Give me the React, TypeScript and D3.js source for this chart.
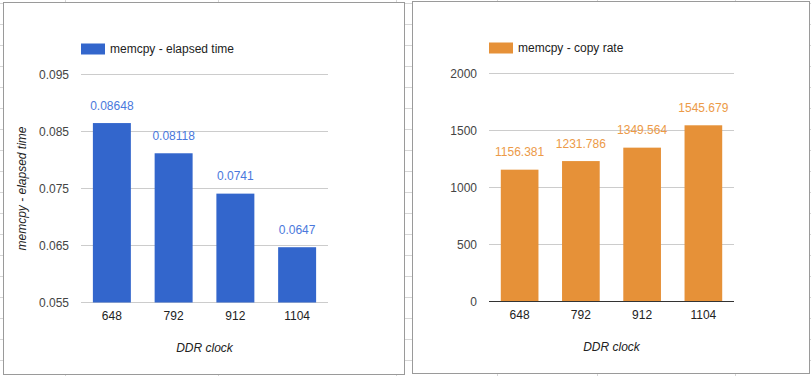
import React from "react";
import * as d3 from "d3";

const categories = ["648", "792", "912", "1104"];
const elapsedTime = [0.08648, 0.08118, 0.0741, 0.0647];
const copyRate = [1156.381, 1231.786, 1349.564, 1545.679];
const elapsedTicks = [0.055, 0.065, 0.075, 0.085, 0.095];
const rateTicks = [0, 500, 1000, 1500, 2000];
const elapsedLabel = "memcpy - elapsed time";
const rateLabel = "memcpy - copy rate";
const xTitle = "DDR clock";

const FONT = "'Liberation Sans', Arial, sans-serif";

type PanelProps = {
  box: { x: number; y: number; w: number; h: number };
  plot: { x0: number; x1: number; y0: number; y1: number };
  values: number[];
  ticks: number[];
  tickFmt: (v: number) => string;
  color: string;
  labelColor: string;
  legend: string;
  legendX: number;
  yTitle?: string;
  baseline: boolean;
};

function Panel(p: PanelProps) {
  const x = d3
    .scaleBand<string>()
    .domain(categories)
    .range([p.plot.x0, p.plot.x1])
    .paddingInner(0.385)
    .paddingOuter(0.1925);
  const y = d3
    .scaleLinear()
    .domain([p.ticks[0], p.ticks[p.ticks.length - 1]])
    .range([p.plot.y0, p.plot.y1]);
  const legendY = p.plot.y1 - 25.5;
  return (
    <g>
      <rect x={p.box.x} y={p.box.y} width={p.box.w} height={p.box.h} fill="#fff" stroke="#9a9a9a" strokeWidth={1} />
      <rect x={p.legendX} y={legendY - 5.5} width={24} height={11} fill={p.color} />
      <text x={p.legendX + 29} y={legendY + 4.3} fontSize={12} fill="#222" fontFamily={FONT}>
        {p.legend}
      </text>
      {p.ticks.map((t, i) => (
        <g key={i}>
          {!(p.baseline && i === 0) && (
            <line x1={p.plot.x0} x2={p.plot.x1} y1={y(t)} y2={y(t)} stroke="#cccccc" strokeWidth={1} />
          )}
          <text x={p.plot.x0 - 12} y={y(t) + 4.3} textAnchor="end" fontSize={12} fill="#444" fontFamily={FONT}>
            {p.tickFmt(t)}
          </text>
        </g>
      ))}
      {categories.map((c, i) => {
        const v = p.values[i];
        const top = y(v);
        const bx = x(c)!;
        const cx = bx + x.bandwidth() / 2;
        return (
          <g key={c}>
            <rect x={bx} y={top} width={x.bandwidth()} height={p.plot.y0 - top} fill={p.color} />
            <text x={cx} y={top - 13.5} textAnchor="middle" fontSize={12} fill={p.labelColor} fontFamily={FONT}>
              {String(v)}
            </text>
            <text x={cx} y={p.plot.y0 + 17.5} textAnchor="middle" fontSize={12} fill="#222" fontFamily={FONT}>
              {c}
            </text>
          </g>
        );
      })}
      {p.baseline && (
        <line x1={p.plot.x0} x2={p.plot.x1} y1={p.plot.y0} y2={p.plot.y0} stroke="#333" strokeWidth={1} />
      )}
      <text
        x={(p.plot.x0 + p.plot.x1) / 2}
        y={p.plot.y0 + 49.5}
        textAnchor="middle"
        fontSize={12}
        fontStyle="italic"
        fill="#222"
        fontFamily={FONT}
      >
        {xTitle}
      </text>
      {p.yTitle && (
        <text
          transform={`translate(${p.box.x + 22.5},${(p.plot.y0 + p.plot.y1) / 2}) rotate(-90)`}
          textAnchor="middle"
          fontSize={12}
          fontStyle="italic"
          fill="#222"
          fontFamily={FONT}
        >
          {p.yTitle}
        </text>
      )}
    </g>
  );
}

export default function App() {
  const W = 811;
  const H = 376;
  const hLines = d3.range(3.5, H, 21);
  const vLines = [65.5, 218.5, 396.5, 497.5, 597.5, 735.5];
  return (
    <svg width={W} height={H} style={{ position: "absolute", left: 0, top: 0, background: "#fff" }}>
      {hLines.map((yy, i) => (
        <line key={"h" + i} x1={0} x2={W} y1={yy} y2={yy} stroke="#d6d6d6" strokeWidth={1} />
      ))}
      {vLines.map((xx, i) => (
        <line key={"v" + i} x1={xx} x2={xx} y1={0} y2={H} stroke="#d6d6d6" strokeWidth={1} />
      ))}
      <Panel
        box={{ x: 3.5, y: 2.5, w: 401, h: 372 }}
        plot={{ x0: 81, x1: 328, y0: 302.5, y1: 74.5 }}
        values={elapsedTime}
        ticks={elapsedTicks}
        tickFmt={(v) => d3.format(".3f")(v)}
        color="#3366cc"
        labelColor="#4a78dc"
        legend={elapsedLabel}
        legendX={81}
        yTitle={elapsedLabel}
        baseline={false}
      />
      <Panel
        box={{ x: 412.5, y: 1.5, w: 397, h: 372 }}
        plot={{ x0: 489, x1: 734, y0: 301.5, y1: 73.5 }}
        values={copyRate}
        ticks={rateTicks}
        tickFmt={(v) => String(v)}
        color="#e69138"
        labelColor="#ec9a48"
        legend={rateLabel}
        legendX={489}
        baseline={true}
      />
    </svg>
  );
}
